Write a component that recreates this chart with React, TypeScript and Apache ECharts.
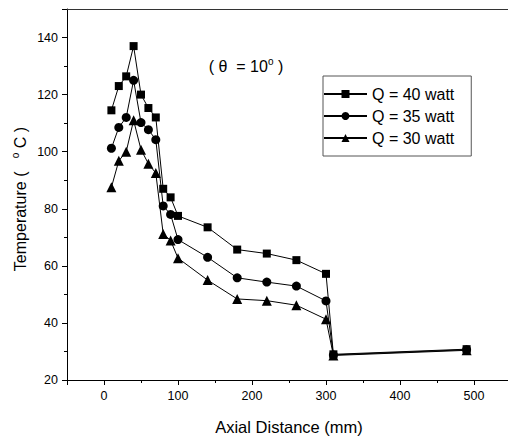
import React, { useEffect, useRef } from "react";
import * as echarts from "echarts";

const axialDistance = [10, 20, 30, 40, 50, 60, 70, 80, 90, 100, 140, 180, 220, 260, 300, 310, 490];
const q40 = [114.5, 123, 126.4, 137, 120, 115.3, 112, 87, 84, 77.5, 73.5, 65.7, 64.3, 62, 57.2, 29, 30.8];
const q35 = [101.2, 108.5, 112, 125, 110.2, 107.7, 104.2, 81, 78, 69.2, 63, 55.8, 54.3, 52.9, 47.7, 28.8, 30.6];
const q30 = [87.5, 96.8, 100, 111, 100.7, 95.8, 92.5, 71.2, 68.9, 62.7, 55, 48.4, 47.8, 46.2, 41.3, 28.6, 30.4];
const seriesNames = ["Q = 40 watt", "Q = 35 watt", "Q = 30 watt"];

const FONT = "'Liberation Sans', Arial, sans-serif";

export default function App() {
  const ref = useRef<HTMLDivElement>(null);
  useEffect(() => {
    document.body.style.margin = "0";
    const chart = echarts.init(ref.current!, null, { renderer: "svg" });
    const pairs = (ys: number[]) => axialDistance.map((x, i) => [x, ys[i]]);
    const mk = (name: string, ys: number[], symbol: string, size: number) => ({
      name,
      type: "line",
      xAxisIndex: 0,
      yAxisIndex: 0,
      data: pairs(ys),
      symbol,
      symbolSize: size,
      color: "#000",
      itemStyle: { color: "#000" },
      lineStyle: { color: "#000", width: 1 },
    });
    const axisLine = { show: true, onZero: false, lineStyle: { color: "#000", width: 1 } };
    chart.setOption({
      animation: false,
      backgroundColor: "#fff",
      textStyle: { fontFamily: FONT },
      grid: { left: 67, top: 9, width: 444, height: 371, outerBoundsMode: "none", containLabel: false },
      legend: {
        orient: "vertical",
        left: 323,
        top: 76,
        data: seriesNames,
        borderColor: "#555",
        borderWidth: 1,
        padding: [10, 17, 10, 0],
        itemGap: 6,
        itemWidth: 43,
        itemHeight: 10,
        textStyle: { fontSize: 16, color: "#000", fontFamily: FONT },
      },
      xAxis: [
        {
          type: "value",
          position: "bottom",
          min: -50,
          max: 550,
          interval: 50,
          axisLine,
          axisTick: { show: true, inside: false, length: 3, lineStyle: { color: "#000" } },
          axisLabel: {
            color: "#000",
            fontSize: 12.5,
            fontFamily: FONT,
            margin: 9,
            formatter: (v: number) => (v % 100 === 0 && v >= 0 && v <= 500 ? String(v) : ""),
          },
          splitLine: { show: false },
        },
        {
          type: "value",
          position: "bottom",
          min: -50,
          max: 550,
          splitNumber: 6,
          axisLine: { show: false, onZero: false },
          axisTick: { show: true, inside: false, length: 5, lineStyle: { color: "#000" } },
          axisLabel: { show: false },
          splitLine: { show: false },
        },
        {
          type: "value",
          position: "top",
          min: -50,
          max: 550,
          interval: 50,
          axisLine: { show: true, onZero: false, lineStyle: { color: "#333", width: 1 } },
          axisTick: { show: false },
          axisLabel: { show: false },
          splitLine: { show: false },
        },
      ],
      yAxis: [
        {
          type: "value",
          position: "left",
          min: 20,
          max: 150,
          interval: 10,
          axisLine,
          axisTick: { show: true, inside: false, length: 3, lineStyle: { color: "#000" } },
          axisLabel: {
            color: "#000",
            fontSize: 12.5,
            fontFamily: FONT,
            margin: 9,
            formatter: (v: number) => (v % 20 === 0 && v <= 140 ? String(v) : ""),
          },
          splitLine: { show: false },
        },
        {
          type: "value",
          position: "left",
          min: 20,
          max: 150,
          interval: 20,
          axisLine: { show: false, onZero: false },
          axisTick: { show: true, inside: false, length: 5, lineStyle: { color: "#000" } },
          axisLabel: { show: false },
          splitLine: { show: false },
        },
      ],
      graphic: [
        {
          type: "text",
          x: 246,
          y: 66,
          style: {
            text: "( θ  = 10{sup|o} )",
            fontSize: 16,
            fontFamily: FONT,
            fill: "#000",
            align: "center",
            verticalAlign: "middle",
            lineHeight: 20,
            rich: { sup: { fontSize: 10, verticalAlign: "top", fontFamily: FONT, fill: "#000" } },
          },
        },
        {
          type: "text",
          x: 289,
          y: 427,
          style: {
            text: "Axial Distance (mm)",
            fontSize: 16.5,
            fontFamily: FONT,
            fill: "#000",
            align: "center",
            verticalAlign: "middle",
          },
        },
        {
          type: "text",
          x: 20,
          y: 199,
          rotation: Math.PI / 2,
          style: {
            text: "Temperature (   {sup|o} C )",
            fontSize: 16,
            fontFamily: FONT,
            fill: "#000",
            align: "center",
            verticalAlign: "middle",
            lineHeight: 20,
            rich: { sup: { fontSize: 10, verticalAlign: "top", fontFamily: FONT, fill: "#000" } },
          },
        },
      ],
      series: [
        mk(seriesNames[2], q30, "triangle", 10),
        mk(seriesNames[1], q35, "circle", 9),
        mk(seriesNames[0], q40, "rect", 8),
      ],
    });
    return () => chart.dispose();
  }, []);
  return (
    <div
      ref={ref}
      style={{ position: "fixed", left: 0, top: 0, width: 508, height: 439, background: "#fff" }}
    />
  );
}
